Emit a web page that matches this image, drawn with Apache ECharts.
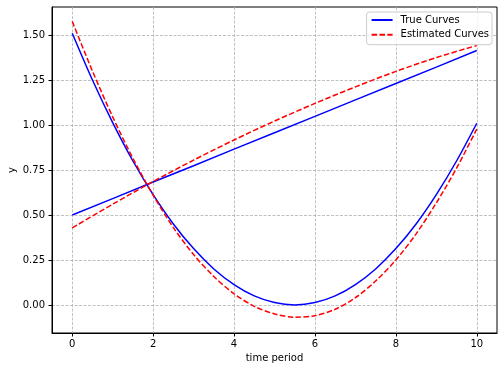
<!DOCTYPE html>
<html>
<head>
<meta charset="utf-8">
<script src="https://cdn.jsdelivr.net/npm/echarts@6/dist/echarts.min.js"></script>
<style>html,body{margin:0;padding:0;background:#fff}#c{width:504px;height:371px}</style>
</head>
<body>
<div id="c"></div>
<script>
// x positions (time period)
var xsCurve = [0,0.5,1,1.5,2,2.5,3,3.5,4,4.5,5,5.5,6,6.5,7,7.5,8,8.5,9,9.5,10];
var xsLine = [0,1,2,3,4,5,6,7,8,9,10];
// True curves
var trueLine = [0.500,0.591,0.683,0.774,0.866,0.957,1.048,1.140,1.231,1.322,1.414];
var trueCurve = [1.510,1.250,1.013,0.800,0.613,0.450,0.313,0.200,0.113,0.050,0.013,0.000,0.013,0.050,0.113,0.200,0.313,0.450,0.613,0.800,1.010];
// Estimated curves
var estLine = [0.428,0.560,0.686,0.805,0.917,1.022,1.120,1.212,1.298,1.375,1.442];
var estCurve = [1.576,1.300,1.045,0.815,0.610,0.430,0.280,0.158,0.062,-0.008,-0.050,-0.068,-0.060,-0.024,0.040,0.133,0.250,0.395,0.567,0.760,0.978];
// tick labels
var xTicks = [0,2,4,6,8,10];
var yTicks = [0,0.25,0.5,0.75,1.0,1.25,1.5];

function pairs(xs, ys){ return xs.map(function(x,i){ return [x, ys[i]]; }); }

var FONT = 'DejaVu Sans';
var chart = echarts.init(document.getElementById('c'), null, {renderer:'canvas'});
var blueStyle = {color:'#0000ff', width:1.5, type:'solid'};
var redStyle = {color:'#ff0000', width:1.5, type:[5.5,2.4]};
chart.setOption({
  animation:false,
  backgroundColor:'#ffffff',
  textStyle:{fontFamily:FONT},
  grid:{left:52, right:7, top:7, bottom:38, containLabel:false, outerBoundsMode:'none',
    show:true, borderColor:'#000', borderWidth:1, backgroundColor:'transparent'},
  legend:{
    right:12, top:12, orient:'vertical',
    itemWidth:21, itemHeight:10, itemGap:4.7,
    padding:[3,3,5,4],
    backgroundColor:'rgba(255,255,255,0.8)', borderColor:'#cccccc', borderWidth:1, borderRadius:3,
    itemStyle:{opacity:0},
    textStyle:{fontFamily:FONT, fontSize:10, color:'#000', padding:[0,0,0,3]},
    data:['True Curves','Estimated Curves']
  },
  xAxis:{
    type:'value', min:-0.5, max:10.5,
    name:'time period', nameLocation:'middle', nameGap:20, nameMoveOverlap:false,
    nameTextStyle:{fontFamily:FONT, fontSize:10, color:'#000'},
    axisLine:{show:true, onZero:false, lineStyle:{color:'#000', width:1}},
    axisTick:{show:true, length:3.5, lineStyle:{color:'#000'}, customValues:xTicks},
    axisLabel:{fontFamily:FONT, fontSize:10, color:'#000', margin:6, customValues:xTicks},
    splitLine:{show:true, lineStyle:{color:'#b0b0b0', width:0.8, type:[3,1.5]}}
  },
  yAxis:{
    type:'value', min:-0.156, max:1.656,
    name:'y', nameLocation:'middle', nameGap:35, nameMoveOverlap:false,
    nameTextStyle:{fontFamily:FONT, fontSize:10, color:'#000'},
    axisLine:{show:true, onZero:false, lineStyle:{color:'#000', width:1}},
    axisTick:{show:true, length:3.5, lineStyle:{color:'#000'}, customValues:yTicks},
    axisLabel:{fontFamily:FONT, fontSize:10, color:'#000', margin:7, customValues:yTicks,
      formatter:function(v){ return v.toFixed(2); }},
    splitLine:{show:true, lineStyle:{color:'#b0b0b0', width:0.8, type:[3,1.5]}}
  },
  series:[
    {name:'True Curves', type:'line', data:pairs(xsLine,trueLine), showSymbol:false, symbol:'none', lineStyle:blueStyle, itemStyle:{color:'#0000ff'}},
    {name:'True Curves', type:'line', data:pairs(xsCurve,trueCurve), smooth:0.3, showSymbol:false, symbol:'none', lineStyle:blueStyle, itemStyle:{color:'#0000ff'}},
    {name:'Estimated Curves', type:'line', data:pairs(xsLine,estLine), smooth:0.3, showSymbol:false, symbol:'none', lineStyle:redStyle, itemStyle:{color:'#ff0000'}},
    {name:'Estimated Curves', type:'line', data:pairs(xsCurve,estCurve), smooth:0.3, showSymbol:false, symbol:'none', lineStyle:redStyle, itemStyle:{color:'#ff0000'}}
  ]
});
</script>
</body>
</html>
